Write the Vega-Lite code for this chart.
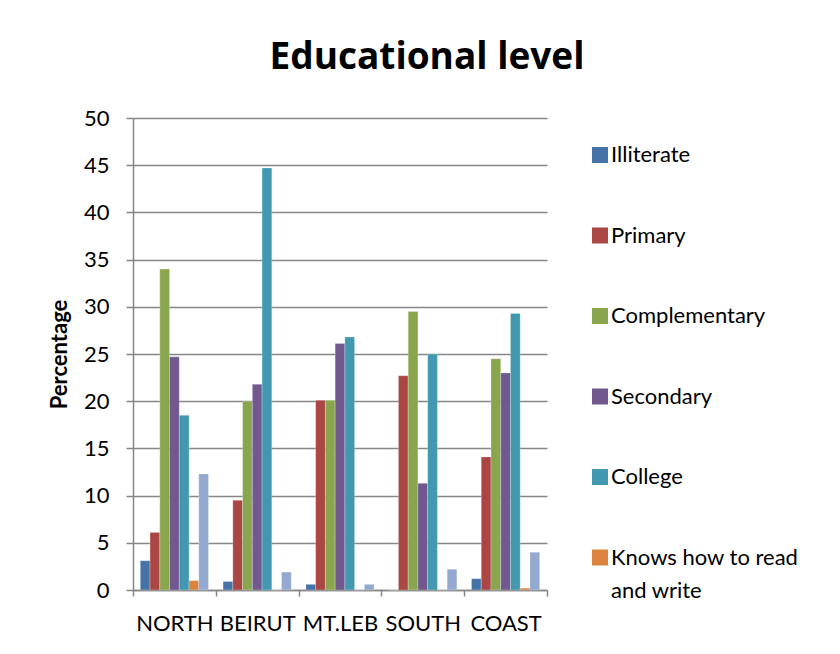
{
  "$schema": "https://vega.github.io/schema/vega-lite/v6.json",
  "autosize": {"type": "none"},
  "width": 414,
  "height": 472,
  "padding": {"left": 133, "top": 118, "right": 293, "bottom": 64},
  "background": "white",
  "title": {
    "text": "Educational level",
    "font": "Open Sans",
    "fontSize": 37,
    "fontWeight": "bold",
    "color": "black",
    "anchor": "middle",
    "dx": 87,
    "offset": 30
  },
  "data": {
    "values": [
      {"region": "NORTH", "level": "Illiterate", "value": 3.1},
      {"region": "NORTH", "level": "Primary", "value": 6.1},
      {"region": "NORTH", "level": "Complementary", "value": 34.0},
      {"region": "NORTH", "level": "Secondary", "value": 24.7},
      {"region": "NORTH", "level": "College", "value": 18.5},
      {"region": "NORTH", "level": "Knows how to read and write", "value": 1.0},
      {"region": "NORTH", "level": "Other", "value": 12.3},
      {"region": "BEIRUT", "level": "Illiterate", "value": 0.9},
      {"region": "BEIRUT", "level": "Primary", "value": 9.5},
      {"region": "BEIRUT", "level": "Complementary", "value": 20.0},
      {"region": "BEIRUT", "level": "Secondary", "value": 21.8},
      {"region": "BEIRUT", "level": "College", "value": 44.7},
      {"region": "BEIRUT", "level": "Knows how to read and write", "value": 0},
      {"region": "BEIRUT", "level": "Other", "value": 1.9},
      {"region": "MT.LEB", "level": "Illiterate", "value": 0.6},
      {"region": "MT.LEB", "level": "Primary", "value": 20.1},
      {"region": "MT.LEB", "level": "Complementary", "value": 20.1},
      {"region": "MT.LEB", "level": "Secondary", "value": 26.1},
      {"region": "MT.LEB", "level": "College", "value": 26.8},
      {"region": "MT.LEB", "level": "Knows how to read and write", "value": 0},
      {"region": "MT.LEB", "level": "Other", "value": 0.6},
      {"region": "SOUTH", "level": "Illiterate", "value": 0},
      {"region": "SOUTH", "level": "Primary", "value": 22.7},
      {"region": "SOUTH", "level": "Complementary", "value": 29.5},
      {"region": "SOUTH", "level": "Secondary", "value": 11.3},
      {"region": "SOUTH", "level": "College", "value": 25.0},
      {"region": "SOUTH", "level": "Knows how to read and write", "value": 0},
      {"region": "SOUTH", "level": "Other", "value": 2.2},
      {"region": "COAST", "level": "Illiterate", "value": 1.2},
      {"region": "COAST", "level": "Primary", "value": 14.1},
      {"region": "COAST", "level": "Complementary", "value": 24.5},
      {"region": "COAST", "level": "Secondary", "value": 23.0},
      {"region": "COAST", "level": "College", "value": 29.3},
      {"region": "COAST", "level": "Knows how to read and write", "value": 0.2},
      {"region": "COAST", "level": "Other", "value": 4.0}
    ]
  },
  "mark": {"type": "bar", "stroke": "white", "strokeOpacity": 0.5, "strokeWidth": 0.5},
  "encoding": {
    "x": {
      "field": "region",
      "type": "nominal",
      "sort": ["NORTH", "BEIRUT", "MT.LEB", "SOUTH", "COAST"],
      "scale": {"paddingInner": 0, "paddingOuter": 0},
      "axis": {
        "title": null,
        "labelAngle": 0,
        "labelFont": "Lato",
        "labelFontSize": 22,
        "labelColor": "black",
        "labelPadding": 17,
        "tickBand": "extent",
        "tickSize": 6,
        "tickColor": "#868686",
        "tickWidth": 1.5,
        "domainColor": "#868686",
        "domainWidth": 1.5,
        "grid": false
      }
    },
    "xOffset": {
      "field": "level",
      "type": "nominal",
      "sort": ["Illiterate", "Primary", "Complementary", "Secondary", "College", "Knows how to read and write", "Other"],
      "scale": {"paddingInner": 0, "paddingOuter": 0.75}
    },
    "y": {
      "field": "value",
      "type": "quantitative",
      "scale": {"domain": [0, 50], "nice": false},
      "axis": {
        "title": "Percentage",
        "titleFont": "Lato",
        "titleFontSize": 22,
        "titleFontWeight": "bold",
        "titleColor": "black",
        "titlePadding": 12,
        "values": [0, 5, 10, 15, 20, 25, 30, 35, 40, 45, 50],
        "labelFont": "Lato",
        "labelFontSize": 22,
        "labelColor": "black",
        "labelPadding": 17,
        "tickSize": 7,
        "tickColor": "#868686",
        "tickWidth": 1.5,
        "domainColor": "#868686",
        "domainWidth": 1.5,
        "gridColor": "#868686",
        "gridWidth": 1.5
      }
    },
    "color": {
      "field": "level",
      "type": "nominal",
      "scale": {
        "domain": ["Illiterate", "Primary", "Complementary", "Secondary", "College", "Knows how to read and write", "Other"],
        "range": ["#4572A7", "#AA4643", "#89A54E", "#71588F", "#4198AF", "#DB843D", "#93A9CF"]
      },
      "legend": {
        "title": null,
        "values": ["Illiterate", "Primary", "Complementary", "Secondary", "College", "Knows how to read and write"],
        "orient": "none",
        "legendX": 456,
        "legendY": 26,
        "symbolType": "square",
        "symbolSize": 256,
        "symbolStrokeWidth": 0,
        "labelFont": "Lato",
        "labelFontSize": 22,
        "labelColor": "black",
        "labelLimit": 300,
        "labelOffset": 0,
        "labelBaseline": "middle",
        "labelExpr": "datum.label == 'Knows how to read and write' ? ['Knows how to read', 'and write'] : datum.label",
        "rowPadding": 58.5
      }
    }
  },
  "config": {
    "view": {"stroke": null},
    "style": {"guide-label": {"lineHeight": 33}}
  }
}
